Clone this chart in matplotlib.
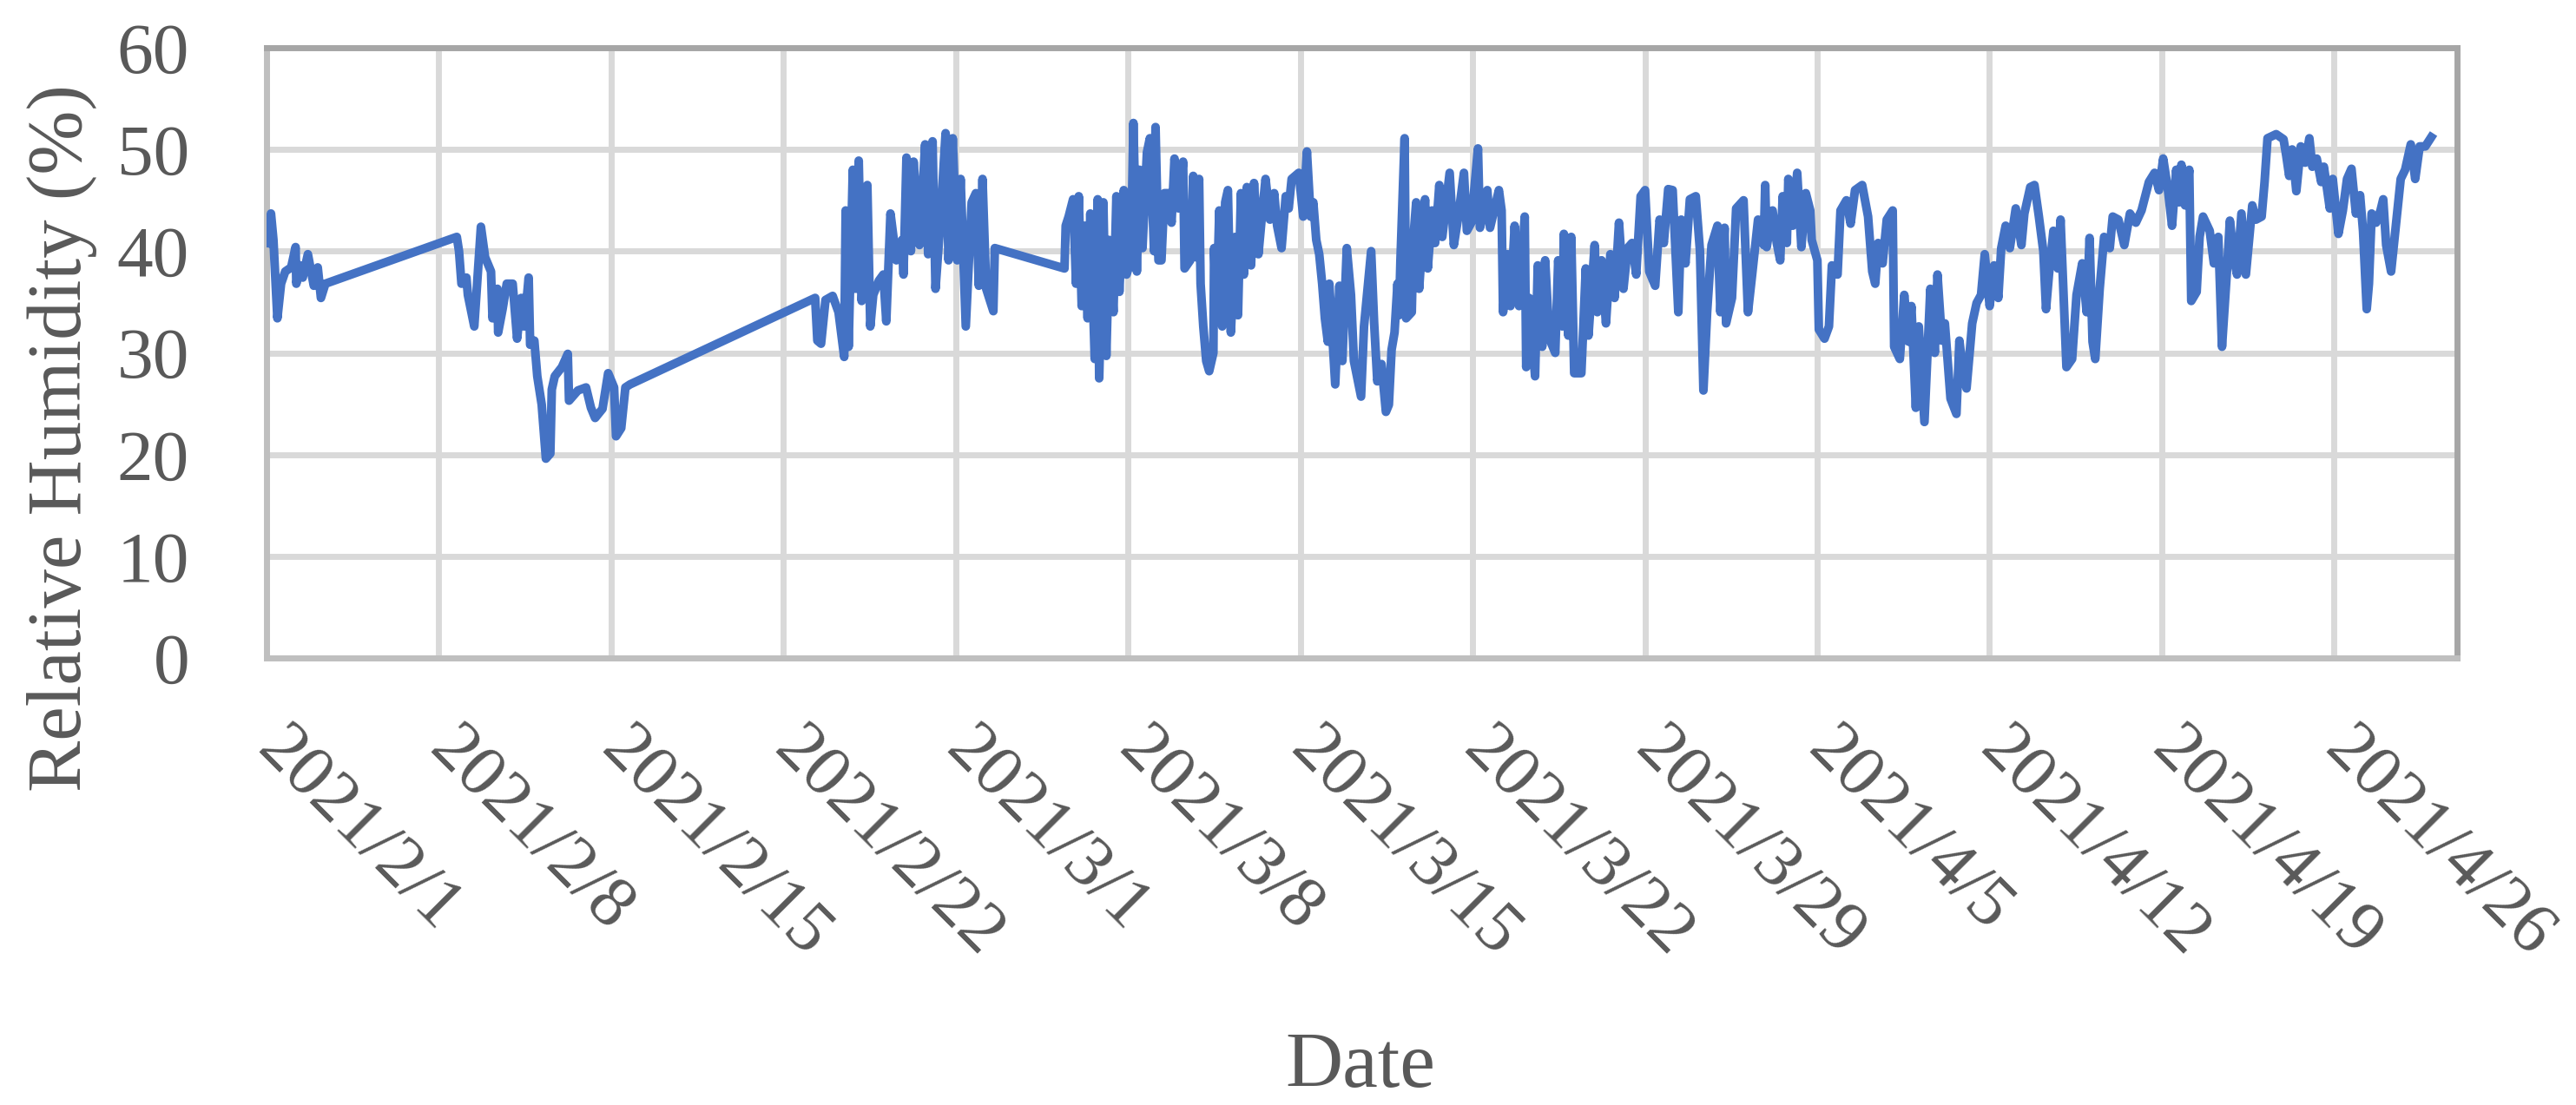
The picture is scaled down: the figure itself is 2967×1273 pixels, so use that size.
import matplotlib
matplotlib.use('Agg')
import matplotlib.pyplot as plt
import pandas as pd

# days since 2021/2/1 00:00 and relative humidity (%)
days = [
    0.02, 0.10, 0.18, 0.28, 0.44, 0.59, 0.76, 1.00, 1.18, 1.21, 1.35, 1.47, 1.68, 1.92, 2.08, 2.21, 2.39,
    7.73, 7.82, 7.92, 8.12, 8.18, 8.44, 8.71, 8.88, 9.12, 9.18, 9.38, 9.41, 9.59, 9.76, 10.00, 10.18,
    10.35, 10.47, 10.65, 10.71, 10.88, 11.00, 11.18, 11.35, 11.53, 11.59, 11.71, 12.00, 12.24, 12.29,
    12.65, 12.98, 13.18, 13.35, 13.65, 13.88, 14.12, 14.20, 14.41, 14.58, 14.77,
    22.29, 22.38, 22.53, 22.71, 23.00, 23.24, 23.47, 23.53, 23.65, 23.82, 23.94, 24.06, 24.18, 24.41,
    24.53, 24.65, 24.88, 25.06, 25.18, 25.35, 25.59, 25.82, 25.88, 26.00, 26.18, 26.29, 26.53, 26.76,
    26.88, 27.06, 27.18, 27.35, 27.59, 27.71, 27.88, 28.06, 28.20, 28.41, 28.65, 28.82, 28.94, 29.09,
    29.24, 29.53, 29.59,
    32.42, 32.47, 32.59, 32.77, 32.89, 33.00, 33.12, 33.24, 33.36, 33.47, 33.65, 33.77, 33.83, 34.00,
    34.12, 34.24, 34.41, 34.53, 34.65, 34.83, 34.94, 35.12, 35.22, 35.36, 35.47, 35.59, 35.77, 35.89,
    36.06, 36.12, 36.24, 36.36, 36.48, 36.65, 36.77, 36.89, 37.06, 37.24, 37.30, 37.53, 37.65, 37.77,
    37.89, 37.95, 38.06, 38.18, 38.30, 38.47, 38.50, 38.59, 38.71, 38.83, 38.95, 39.06, 39.18, 39.36,
    39.47, 39.59, 39.71, 39.83, 40.00, 40.12, 40.30, 40.47, 40.59, 40.77, 40.94, 41.06, 41.24, 41.41,
    41.53, 41.65, 41.94, 42.12, 42.27, 42.42, 42.53, 42.65, 42.77, 42.89, 43.00, 43.12, 43.18, 43.42,
    43.59, 43.71, 43.89, 44.06, 44.18, 44.47, 44.59, 44.88,
    45.00, 45.13, 45.30, 45.48, 45.60, 45.71, 45.83, 45.95, 46.01, 46.07, 46.24, 46.30, 46.53, 46.60,
    46.71, 46.83, 47.07, 47.18, 47.36, 47.48, 47.65, 47.77, 48.07, 48.24, 48.42, 48.65, 48.77, 48.95,
    49.22, 49.30, 49.48, 49.60, 49.71, 50.07, 50.18, 50.24, 50.42, 50.54, 50.71, 50.89, 51.12, 51.18,
    51.30, 51.54, 51.65, 51.83, 51.95, 52.12, 52.36, 52.48, 52.65, 52.71, 52.89, 53.01, 53.13, 53.42,
    53.60, 53.71, 53.96, 54.07, 54.24, 54.42, 54.60, 54.77, 54.95, 55.13, 55.30, 55.48, 55.65, 55.83,
    56.01, 56.18, 56.42, 56.60, 56.77, 56.95, 57.13, 57.36, 57.48, 57.65, 57.83, 58.07, 58.24, 58.38,
    58.53, 58.71, 58.95, 59.07, 59.24, 59.30, 59.54, 59.71, 60.01, 60.19, 60.36, 60.60, 60.83, 60.89,
    60.95, 61.19, 61.36, 61.50, 61.60, 61.77, 61.83, 62.01, 62.19, 62.36, 62.54, 62.72, 62.78, 63.01,
    63.07, 63.30, 63.48, 63.60, 63.83, 63.95, 64.19, 64.36, 64.54, 64.83, 65.07, 65.24, 65.36, 65.48,
    65.66, 65.83, 66.07, 66.13, 66.36, 66.54, 66.72, 66.83, 67.01, 67.13, 67.36, 67.60, 67.78, 67.89,
    68.07, 68.19, 68.42, 68.66, 68.78, 68.95, 69.07, 69.30, 69.48, 69.66, 69.81, 70.01, 70.19, 70.36,
    70.48, 70.66, 70.83, 71.07, 71.30, 71.42, 71.66, 71.83, 72.01, 72.19, 72.30, 72.42, 72.60, 72.78,
    72.89, 73.13, 73.36, 73.54, 73.77, 73.95, 74.07, 74.19, 74.30, 74.48, 74.66, 74.89, 75.01, 75.24,
    75.48, 75.71, 75.95, 76.18, 76.48, 76.71, 76.89, 77.06, 77.24, 77.42, 77.59, 77.71, 77.80, 77.95,
    78.12, 78.20, 78.42, 78.54, 78.68, 78.95, 79.12, 79.30, 79.45, 79.65, 79.77, 79.95, 80.06, 80.24,
    80.42, 80.68, 80.83, 81.06, 81.18, 81.30, 81.65, 81.95, 82.06, 82.18, 82.30, 82.47, 82.65, 82.83,
    83.00, 83.12, 83.30, 83.48, 83.59, 83.83, 83.95, 84.18, 84.36, 84.53, 84.71, 84.89, 85.06, 85.18,
    85.33, 85.42, 85.53, 85.71, 85.89, 86.00, 86.12, 86.32, 86.48, 86.71, 86.89, 87.12, 87.30, 87.48,
    87.71, 87.95,
]
rh = [
    40.8, 42.0, 43.7, 41.1, 33.4, 36.8, 38.0, 38.4, 40.4, 36.8, 38.6, 37.4, 39.7, 36.6, 38.4, 35.4, 36.8,
    41.4, 40.0, 36.8, 37.4, 35.7, 32.6, 42.4, 39.4, 38.0, 33.4, 36.3, 32.0, 34.3, 36.8, 36.8, 31.4,
    35.4, 32.6, 37.4, 30.8, 31.2, 27.7, 24.9, 19.6, 20.1, 26.4, 27.7, 28.6, 29.9, 25.3,
    26.3, 26.6, 24.6, 23.6, 24.5, 28.0, 26.6, 21.8, 22.6, 26.6, 26.9,
    35.4, 31.2, 30.9, 35.2, 35.6, 34.0, 29.6, 44.0, 30.6, 48.0, 36.3, 48.9, 35.1, 46.5,
    32.6, 35.7, 37.1, 37.7, 33.1, 43.7, 39.1, 41.1, 37.7, 49.2, 40.0, 48.8, 40.6, 50.5,
    39.7, 50.8, 36.3, 42.0, 51.6, 39.1, 51.1, 39.1, 47.1, 32.6, 44.8, 45.7, 36.6, 47.1,
    36.3, 34.1, 40.3,
    38.3, 42.5, 43.4, 45.1, 36.8, 45.4, 34.6, 42.5, 33.4, 43.7, 29.4, 45.1, 27.5, 44.8,
    29.7, 41.1, 34.0, 45.4, 36.0, 46.0, 37.7, 39.1, 52.6, 38.0, 48.0, 40.3, 49.7, 51.1,
    40.0, 52.2, 39.1, 39.1, 45.7, 45.7, 42.8, 49.1, 44.2, 48.8, 38.3, 39.1, 47.4, 39.4,
    47.1, 36.8, 32.6, 29.2, 28.2, 30.0, 40.3, 33.4, 44.0, 32.6, 44.8, 46.0, 32.0, 41.4,
    33.7, 45.7, 37.7, 46.3, 38.6, 46.7, 39.7, 44.2, 47.1, 43.1, 45.7, 42.5, 40.3, 45.4,
    44.2, 47.1, 47.7, 43.4, 49.8, 43.4, 44.8, 41.1, 39.7, 36.8, 33.4, 31.1, 36.8, 26.9,
    36.6, 29.2, 40.3, 35.7, 29.2, 25.7, 32.6, 40.0,
    33.0, 27.2, 28.9, 24.2, 24.9, 30.3, 32.0, 36.8, 33.7, 39.1, 51.1, 33.4, 34.0, 41.4,
    44.8, 36.3, 45.1, 38.3, 44.0, 40.8, 46.5, 41.4, 47.7, 40.6, 43.4, 47.7, 42.0, 42.8,
    50.1, 42.3, 44.0, 46.0, 42.3, 46.0, 44.0, 34.0, 39.7, 34.6, 42.5, 34.6, 43.4, 28.6,
    35.4, 27.7, 38.6, 30.6, 39.1, 31.4, 30.0, 39.1, 32.6, 41.7, 31.7, 41.4, 28.0, 28.0,
    38.3, 31.7, 40.6, 34.0, 39.1, 32.9, 39.7, 35.4, 42.8, 36.3, 40.3, 40.8, 37.7, 45.4,
    46.0, 38.0, 36.6, 43.1, 40.8, 46.1, 46.0, 34.0, 43.1, 38.8, 45.1, 45.4, 40.0, 26.3,
    34.0, 40.6, 42.5, 34.0, 42.3, 32.9, 35.4, 44.2, 45.0, 34.0, 37.7, 43.1, 40.6, 46.5,
    40.4, 44.0, 40.8, 39.1, 45.4, 40.8, 47.1, 42.5, 47.7, 40.4, 45.7, 44.0, 41.1, 39.1,
    32.3, 31.4, 32.6, 38.6, 37.7, 44.0, 45.0, 42.7, 46.0, 46.5, 43.4, 38.0, 36.8, 40.8,
    38.8, 43.1, 44.0, 30.6, 29.4, 35.7, 31.1, 34.6, 24.6, 32.6, 23.2, 36.3, 30.0, 37.7,
    31.2, 32.9, 25.5, 24.0, 31.2, 27.7, 26.5, 32.9, 34.9, 35.7, 39.7, 34.6, 38.6, 35.4,
    40.3, 42.5, 40.3, 44.2, 40.6, 43.7, 46.3, 46.5, 43.4, 40.0, 34.3, 37.7, 42.0, 38.3,
    43.1, 28.6, 29.4, 35.7, 38.8, 34.0, 41.3, 31.1, 29.4, 36.3, 41.4, 40.3, 43.4, 43.1,
    40.6, 43.7, 42.8, 44.0, 46.8, 47.7, 46.0, 49.1, 46.3, 42.5, 48.0, 44.8, 48.5, 44.5,
    48.0, 35.1, 36.0, 41.4, 43.4, 42.0, 38.8, 41.4, 30.6, 38.0, 43.0, 39.1, 37.7, 43.7,
    37.7, 44.5, 43.1, 43.4, 46.8, 51.1, 51.5, 51.0, 49.4, 47.4, 50.0, 45.9, 50.3, 48.7,
    51.1, 48.3, 49.1, 46.8, 48.3, 44.2, 47.1, 41.7, 44.0, 47.1, 48.1, 43.7, 45.5, 42.0,
    34.3, 36.8, 43.7, 42.8, 44.0, 45.1, 40.6, 38.0, 41.7, 47.1, 48.0, 50.5, 47.1, 50.3,
    50.3, 51.2,
]

start = pd.Timestamp('2021-02-01')
times = start + pd.to_timedelta(days, unit='D')
tick_dates = pd.date_range('2021-02-01', '2021-04-26', freq='7D')
tick_labels = [f"{d.year}/{d.month}/{d.day}" for d in tick_dates]

text_color = '#595959'
plt.rcParams['font.family'] = ['Liberation Serif', 'DejaVu Serif']

fig = plt.figure(figsize=(2967 / 200, 1273 / 200), dpi=200)
ax = fig.add_axes([307 / 2967, 1 - 758 / 1273, (2830 - 307) / 2967, (758 - 55) / 1273])

ax.plot(times, rh, color='#4472c4', linewidth=3.6, solid_joinstyle='round', zorder=3)

ax.set_xlim(start, pd.Timestamp('2021-05-01'))
ax.set_ylim(0, 60)
ax.set_yticks(range(0, 61, 10))
ax.set_xticks(tick_dates)
ax.set_xticklabels(tick_labels, rotation=-45, ha='left', va='center', rotation_mode='anchor')

ax.grid(True, color='#d9d9d9', linewidth=2.5)
ax.set_axisbelow(True)
ax.tick_params(axis='both', length=0, labelsize=30, labelcolor=text_color)
ax.tick_params(axis='x', pad=34)
ax.tick_params(axis='y', pad=32)

for side in ['left', 'bottom']:
    ax.spines[side].set_color('#bfbfbf')
    ax.spines[side].set_linewidth(2.5)
for side in ['top', 'right']:
    ax.spines[side].set_color('#a6a6a6')
    ax.spines[side].set_linewidth(2.5)

fig.text(72 / 2967, 1 - 505 / 1273, 'Relative Humidity (%)', rotation=90,
         ha='center', va='center', fontsize=32, color=text_color)
fig.text(1567 / 2967, 1 - 1252 / 1273, 'Date', ha='center', va='baseline',
         fontsize=33, color=text_color)

fig.savefig('out.png', dpi=200)
